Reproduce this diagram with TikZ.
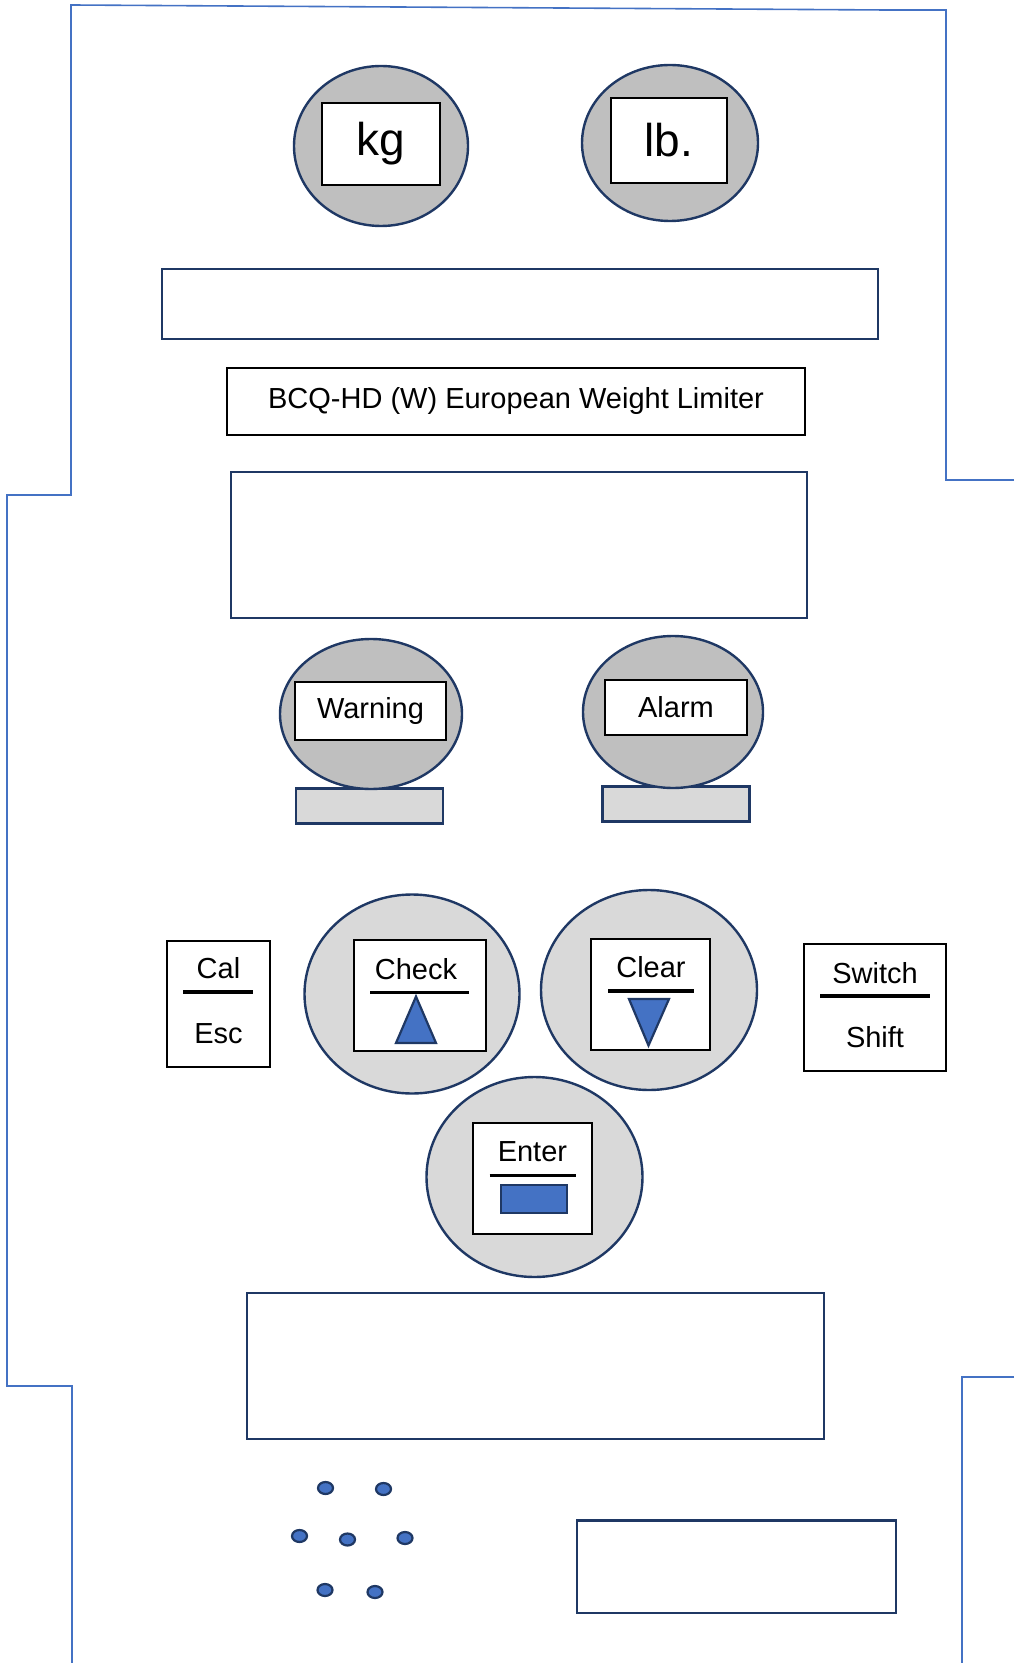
\documentclass[tikz,border=0pt]{standalone}
\usepackage{fontspec}
\setmainfont{Liberation Sans}
\usetikzlibrary{shapes.geometric}
\definecolor{navy}{HTML}{1F3864}
\definecolor{outl}{HTML}{4472C4}
\definecolor{fillblue}{HTML}{4472C4}
\definecolor{grayA}{HTML}{BFBFBF}
\definecolor{grayB}{HTML}{D9D9D9}
\tikzset{
  lamp/.style={ellipse, draw=navy, line width=1.2pt, fill=grayA, inner sep=0pt},
  btn/.style={ellipse, draw=navy, line width=1.2pt, fill=grayB, inner sep=0pt},
  lbl/.style={rectangle, draw=black, line width=1pt, fill=white, inner sep=0pt},
  panel/.style={rectangle, draw=navy, line width=1.3pt, fill=white, inner sep=0pt},
  basebox/.style={rectangle, draw=navy, line width=1.2pt, fill=grayB, inner sep=0pt},
  dot/.style={ellipse, draw=navy, line width=1.1pt, fill=fillblue, inner sep=0pt, minimum width=7.5pt, minimum height=6pt},
  txt/.style={font=\fontsize{14.5}{17}\selectfont, inner sep=0pt},
  bigtxt/.style={font=\fontsize{23}{27}\selectfont, inner sep=0pt},
  divider/.style={draw=black, line width=1.6pt},
  outline/.style={draw=outl, line width=0.8pt},
  triang/.style={draw=navy, line width=1.1pt, fill=fillblue, line join=miter}
}
\begin{document}
\begin{tikzpicture}[x=0.5pt,y=-0.5pt]
\useasboundingbox (0,0) rectangle (1014,1663);
% outline
\draw[outline] (1014,480) -- (946,480) -- (946,10) -- (880,10);
\draw[outline] (886,10) -- (71,5) -- (71,495) -- (7,495) -- (7,1386) -- (72,1386) -- (72,1663);
\draw[outline] (1014,1377) -- (962,1377) -- (962,1663);
% unit lamps
\node[lamp, minimum width=87pt, minimum height=80pt] (kgE) at (381,146) {};
\node[lbl, bigtxt, minimum width=59pt, minimum height=41pt] (kgB) at (381,144) {kg};
\node[lamp, minimum width=88pt, minimum height=78pt] (lbE) at (670,143) {};
\node[lbl, bigtxt, minimum width=58pt, minimum height=42.5pt] (lbB) at (669,140.5) {lb.};
% panels
\node[panel, minimum width=358pt, minimum height=35pt] (topR) at (520,304) {};
\node[lbl, txt, minimum width=289pt, minimum height=33.5pt] (bcq) at (516,401.5) {BCQ-HD (W) European Weight Limiter};
\node[panel, minimum width=288pt, minimum height=73pt] (midR) at (519,545) {};
% warning / alarm
\node[basebox, minimum width=73.5pt, minimum height=17.5pt] (warnBase) at (369.5,805.8) {};
\node[lamp, minimum width=91pt, minimum height=75pt] (warnE) at (371,714) {};
\node[lbl, txt, minimum width=75.5pt, minimum height=29pt] (warnB) at (370.5,711) {Warning};
\node[basebox, minimum width=73.5pt, minimum height=17.5pt] (alarmBase) at (676,804) {};
\node[lamp, minimum width=90pt, minimum height=76pt] (alarmE) at (673,712) {};
\node[lbl, txt, minimum width=71pt, minimum height=27.5pt] (alarmB) at (676,707.5) {Alarm};
% Cal / Esc
\node[lbl, minimum width=51.5pt, minimum height=63pt] (calB) at (218.5,1004) {};
\node[txt] (calT) at (218.5,968) {Cal};
\node[txt] (escT) at (218.5,1034) {Esc};
\draw[divider] (183,992) -- (253,992);
% Check
\node[btn, minimum width=107.5pt, minimum height=99.5pt] (checkE) at (412,994) {};
\node[lbl, minimum width=66pt, minimum height=55.5pt] (checkB) at (419.5,995.5) {};
\node[txt] (checkT) at (416,969.6) {Check};
\draw[divider] (370,992.4) -- (468.5,992.4);
\draw[triang] (416,996.5) -- (436,1043) -- (396,1043) -- cycle;
% Clear
\node[btn, minimum width=108pt, minimum height=100pt] (clearE) at (649,990) {};
\node[lbl, minimum width=59.5pt, minimum height=55.5pt] (clearB) at (650.5,994.5) {};
\node[txt] (clearT) at (651,967.6) {Clear};
\draw[divider] (608,991) -- (693.5,991);
\draw[triang] (629,999) -- (669,999) -- (648.5,1045.5) -- cycle;
% Switch / Shift
\node[lbl, minimum width=71pt, minimum height=63.5pt] (switchB) at (875,1007.5) {};
\node[txt] (switchT) at (875,973.6) {Switch};
\node[txt] (shiftT) at (875,1037) {Shift};
\draw[divider] (820,996) -- (930,996);
% Enter
\node[btn, minimum width=108pt, minimum height=100pt] (enterE) at (534.5,1177) {};
\node[lbl, minimum width=59.5pt, minimum height=55.25pt] (enterB) at (532.5,1178.7) {};
\node[txt] (enterT) at (532.4,1151.6) {Enter};
\draw[divider] (489.5,1175.6) -- (576,1175.6);
\node[rectangle, draw=navy, line width=1.1pt, fill=fillblue, inner sep=0pt, minimum width=33pt, minimum height=14pt] (enterSym) at (533.7,1198.7) {};
% lower panels
\node[panel, minimum width=288.5pt, minimum height=73pt] (lowR) at (535.5,1366) {};
\node[panel, minimum width=159.5pt, minimum height=46.25pt] (smallR) at (736.5,1566.8) {};
% speaker dots
\node[dot] (d1) at (325.5,1488) {};
\node[dot] (d2) at (383.5,1489) {};
\node[dot] (d3) at (299.5,1536) {};
\node[dot] (d4) at (347.5,1539.5) {};
\node[dot] (d5) at (405,1538) {};
\node[dot] (d6) at (325,1590) {};
\node[dot] (d7) at (375,1592) {};
\end{tikzpicture}
\end{document}
